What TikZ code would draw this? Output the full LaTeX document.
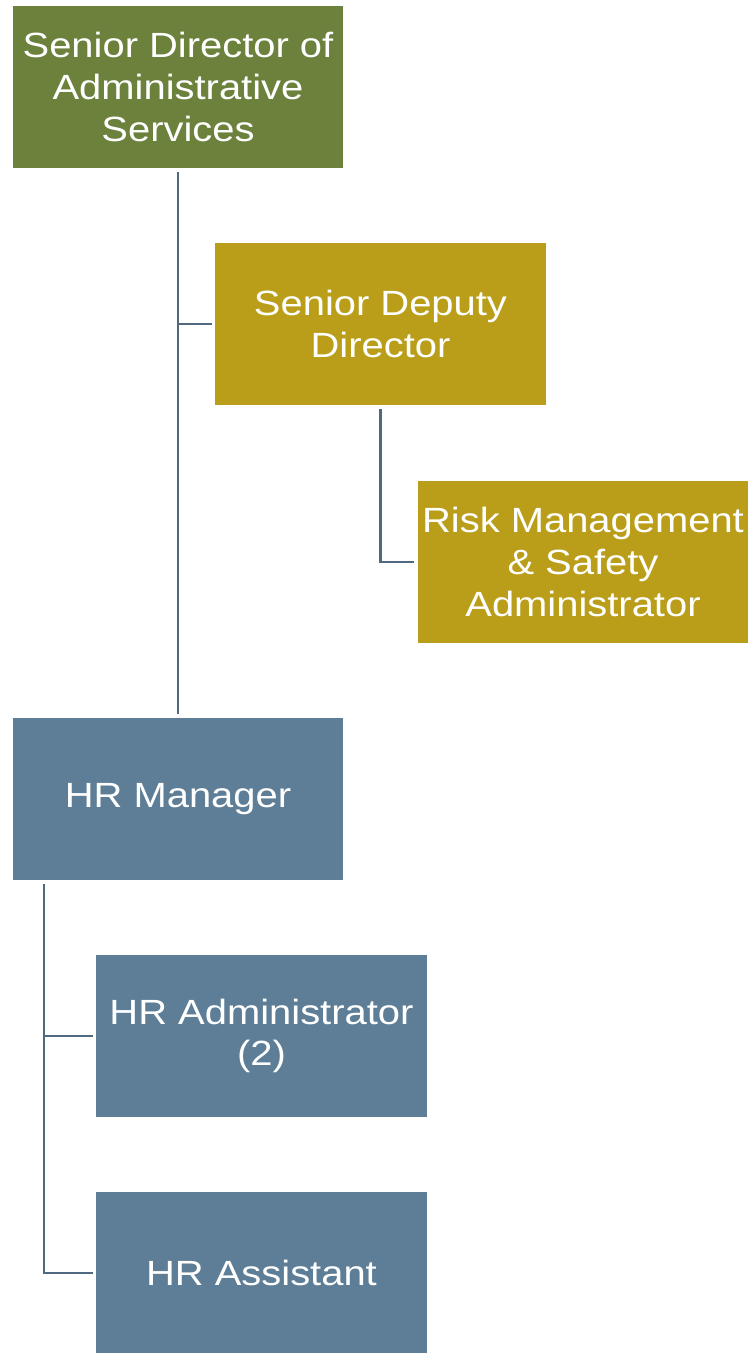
\documentclass[tikz,border=0pt]{standalone}
\usepackage{fontspec}
\setmainfont{Liberation Sans}[FakeStretch=1.14]
\usetikzlibrary{calc}

\definecolor{olive}{HTML}{6B813C}
\definecolor{mustard}{HTML}{BA9E19}
\definecolor{slate}{HTML}{5D7E96}
\definecolor{wire}{HTML}{4F6A80}

\tikzset{
  post/.style={rectangle, text=white, align=center, inner sep=2pt, outer sep=3.4pt,
    minimum width=9.9cm, minimum height=4.88cm,
    font=\fontsize{29.9}{35.5}\selectfont},
  link/.style={draw=wire, line width=2.4pt}
}

\begin{document}
\begin{tikzpicture}[x=0.03cm,y=-0.03cm]
            \useasboundingbox (0,0) rectangle (754,1353);
            \node (sd) [post, fill=olive] at (178,87) {Senior Director of\\Administrative\\Services};
            \node (dep) [post, fill=mustard] at (380.5,324) {Senior Deputy\\Director};
            \node (risk) [post, fill=mustard] at (583,562) {Risk Management\\\& Safety\\Administrator};
            \node (hrm) [post, fill=slate] at (178,799) {HR Manager};
            \node (hra) [post, fill=slate] at (261.5,1036) {HR Administrator\\(2)};
            \node (hras) [post, fill=slate] at (261.5,1273) {HR Assistant};
            \draw [link] (sd.south) -- (hrm.north);
            \draw [link] (sd.south |- dep.west) -- (dep.west);
            \draw [link] (dep.south) -- (dep.south |- risk.west) -- (risk.west);
            \coordinate (trunk) at ([xshift=1.05cm]hrm.south west);
            \draw [link] (trunk) -- (trunk |- hras.west) -- (hras.west);
            \draw [link] (trunk |- hra.west) -- (hra.west);
        \end{tikzpicture}
\end{document}
